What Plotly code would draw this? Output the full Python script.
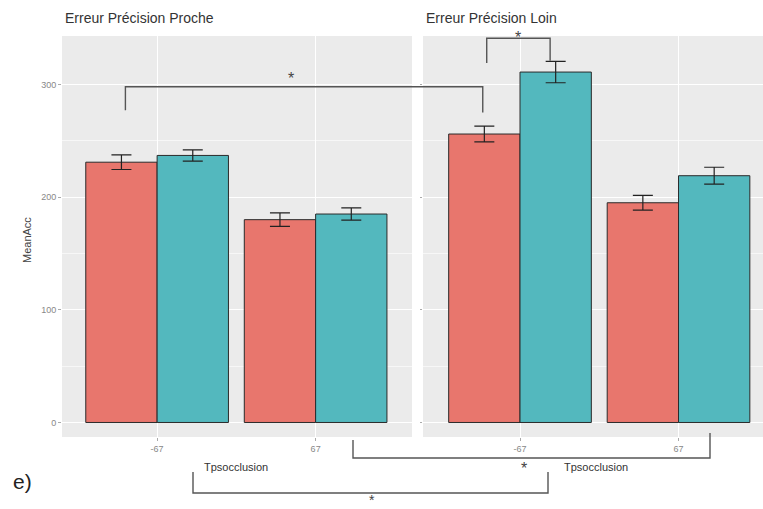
import plotly.graph_objects as go

W, H = 763, 509

# ---- data ----
categories = ["-67", "67"]
panels = ["Erreur Précision Proche", "Erreur Précision Loin"]
red_proche = [231, 180]
red_proche_err = [6.5, 6]
teal_proche = [237, 185]
teal_proche_err = [5, 5.5]
red_loin = [256, 195]
red_loin_err = [7, 6.5]
teal_loin = [311, 219]
teal_loin_err = [9.5, 7.5]
y_ticks = [0, 100, 200, 300]

RED = "#E8766D"
TEAL = "#53B8BE"

# layout geometry (pixels)
P1 = (62, 412)
P2 = (423, 763)
R1 = [-0.6, 1.608]
R2 = [-0.612, 1.533]
YTOP, YBOT = 36, 437
YR = [-12.9, 343]


def xpaper(px):
    return px / W


def ypaper(py):
    return 1 - py / H


def data_to_px(panel, xv):
    (a, b), r = (P1, R1) if panel == 1 else (P2, R2)
    return a + (xv - r[0]) / (r[1] - r[0]) * (b - a)


def yval_to_px(v):
    return YBOT - (v - YR[0]) / (YR[1] - YR[0]) * (YBOT - YTOP)


fig = go.Figure()
xs = [0, 1]
for (vals, errs, col, xa) in [
    (red_proche, red_proche_err, RED, "x"),
    (teal_proche, teal_proche_err, TEAL, "x"),
    (red_loin, red_loin_err, RED, "x2"),
    (teal_loin, teal_loin_err, TEAL, "x2"),
]:
    off = -0.45 if col == RED else 0.0
    fig.add_trace(go.Bar(
        x=xs, y=vals, xaxis=xa, yaxis="y" if xa == "x" else "y2",
        width=0.45, offset=off,
        marker=dict(color=col, line=dict(color="#2a2a2a", width=1)),
        error_y=dict(type="data", array=errs, color="#222", thickness=1.2, width=10),
        showlegend=False,
    ))

grid = dict(showgrid=True, gridcolor="white", gridwidth=1.3, zeroline=False)
fig.update_layout(
    width=W, height=H, margin=dict(l=0, r=0, t=0, b=0),
    paper_bgcolor="white", plot_bgcolor="#EBEBEB",
    font=dict(family="Liberation Sans, Arial, sans-serif"),
    xaxis=dict(domain=[xpaper(P1[0]), xpaper(P1[1])], range=R1, tickvals=xs, ticktext=categories,
               ticks="outside", ticklen=3, tickcolor="#aaa", tickfont=dict(size=9, color="#888"),
               anchor="y", fixedrange=True, **grid),
    xaxis2=dict(domain=[xpaper(P2[0]), xpaper(P2[1])], range=R2, tickvals=xs, ticktext=categories,
                ticks="outside", ticklen=3, tickcolor="#aaa", tickfont=dict(size=9, color="#888"),
                anchor="y2", fixedrange=True, **grid),
    yaxis=dict(domain=[ypaper(YBOT), ypaper(YTOP)], range=YR, tickvals=y_ticks,
               ticks="outside", ticklen=3, tickcolor="#aaa", tickfont=dict(size=9, color="#888"),
               minor=dict(tickvals=[50, 150, 250], showgrid=True, gridcolor="#F7F7F7", gridwidth=0.7),
               anchor="x", **grid),
    yaxis2=dict(domain=[ypaper(YBOT), ypaper(YTOP)], range=YR, tickvals=y_ticks, showticklabels=False,
                ticks="outside", ticklen=2, tickcolor="#aaa",
                minor=dict(tickvals=[50, 150, 250], showgrid=True, gridcolor="#F7F7F7", gridwidth=0.7),
                anchor="x2", matches="y", **grid),
)

ann = []
# panel titles
ann.append(dict(text=panels[0], x=xpaper(63), y=ypaper(18), xanchor="left", yanchor="middle",
                font=dict(size=14, color="#333")))
ann.append(dict(text=panels[1], x=xpaper(424), y=ypaper(18), xanchor="left", yanchor="middle",
                font=dict(size=14, color="#333")))
# axis titles
ann.append(dict(text="MeanAcc", x=xpaper(27), y=ypaper(240), textangle=-90, xanchor="center", yanchor="middle",
                font=dict(size=11, color="#444")))
for cx in [236, 596]:
    ann.append(dict(text="Tpsocclusion", x=xpaper(cx), y=ypaper(467), xanchor="center", yanchor="middle",
                    font=dict(size=11, color="#333")))
ann.append(dict(text="e)", x=xpaper(22), y=ypaper(481), xanchor="center", yanchor="middle",
                font=dict(size=21, color="#222")))

shapes = []
LC = dict(color="#555", width=1.4)


def bracket(x1, x2, ytop, yb1, yb2):
    shapes.append(dict(type="path", xref="paper", yref="paper", line=LC,
                       path=f"M {xpaper(x1)} {ypaper(yb1)} L {xpaper(x1)} {ypaper(ytop)} "
                            f"L {xpaper(x2)} {ypaper(ytop)} L {xpaper(x2)} {ypaper(yb2)}"))


def star(x, y, size=16):
    ann.append(dict(text="*", x=xpaper(x), y=ypaper(y), xanchor="center", yanchor="middle",
                    font=dict(size=size, color="#444")))


# significance brackets (top, in data units)
bx1 = data_to_px(1, -0.2)
bx2 = data_to_px(2, -0.235)
bracket(bx1, bx2, yval_to_px(298), yval_to_px(277), yval_to_px(275))
star(291, 78)
cx1 = data_to_px(2, -0.21)
cx2 = data_to_px(2, 0.19)
bracket(cx1, cx2, yval_to_px(341), yval_to_px(319), yval_to_px(321))
star(518, 37)
# bottom brackets
bracket(353, 710, 458, 440, 433)
star(524, 468)
bracket(193, 548, 493, 472, 472)
star(372, 500, size=14)

fig.update_layout(annotations=[dict(a, xref="paper", yref="paper", showarrow=False) for a in ann],
                  shapes=shapes)

fig.write_html("out.html")
